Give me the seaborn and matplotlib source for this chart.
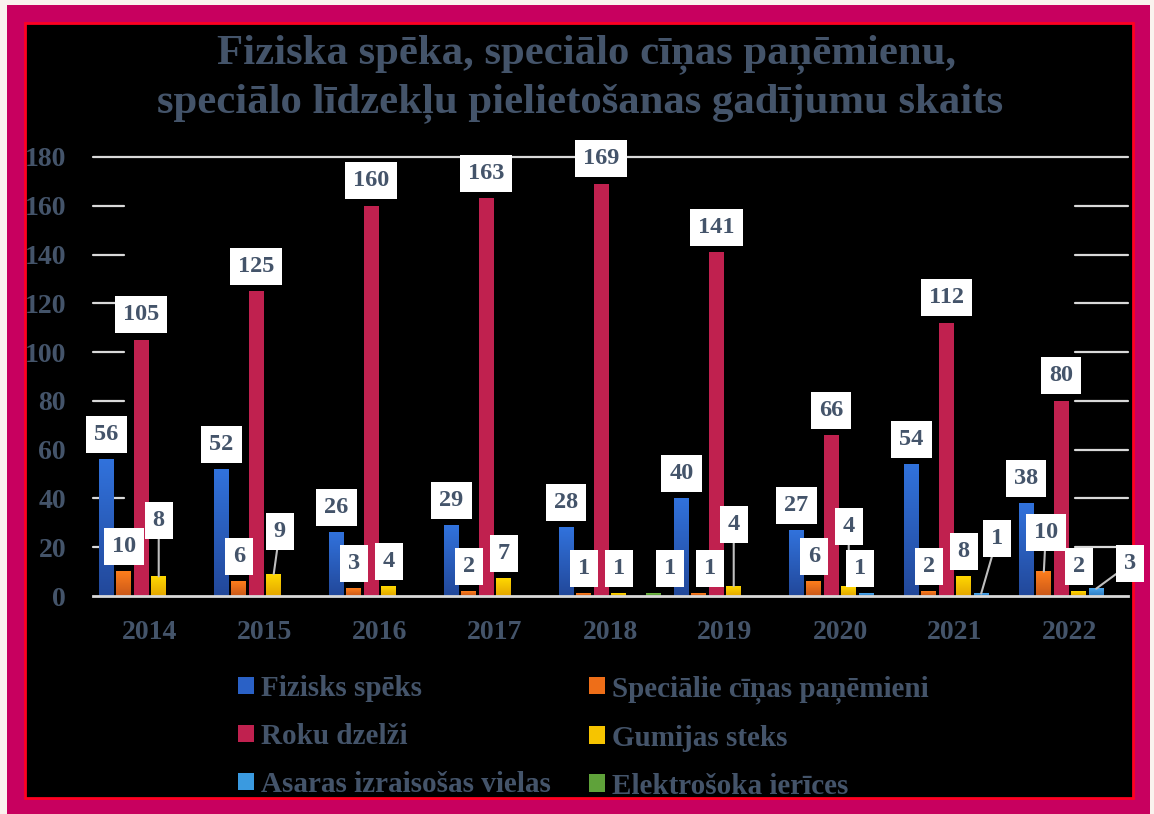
import numpy as np
import pandas as pd
import matplotlib
matplotlib.use('Agg')
import matplotlib.pyplot as plt
import seaborn as sns
from matplotlib.colors import to_rgb
from matplotlib.patches import Rectangle, Patch

# dati
years = ['2014', '2015', '2016', '2017', '2018', '2019', '2020', '2021', '2022']
fizisks_speks = [56, 52, 26, 29, 28, 40, 27, 54, 38]
specialie_panemieni = [10, 6, 3, 2, 1, 1, 6, 2, 10]
roku_dzelzi = [105, 125, 160, 163, 169, 141, 66, 112, 80]
gumijas_steks = [8, 9, 4, 7, 1, 4, 4, 8, 2]
asaras_vielas = [0, 0, 0, 0, 0, 0, 1, 1, 3]
elektrosoka_ierices = [0, 0, 0, 0, 1, 0, 0, 0, 0]

series_names = ['Fizisks spēks', 'Speciālie cīņas paņēmieni', 'Roku dzelži',
                'Gumijas steks', 'Asaras izraisošas vielas', 'Elektrošoka ierīces']
series_values = [fizisks_speks, specialie_panemieni, roku_dzelzi,
                 gumijas_steks, asaras_vielas, elektrosoka_ierices]
colors = ['#2A61C6', '#EE6E18', '#C0214F', '#F6C400', '#3A9AE0', '#5FA23A']
# krāsu pārejas (augša, apakša); None = vienkrāsains
gradients = [('#3172DC', '#22489A'), ('#FF7E1C', '#C9581A'), None,
             ('#FFD800', '#E3A600'), ('#4CA8EE', '#2E7CC2'), ('#74BE46', '#4E8A2D')]

title_lines = ['Fiziska spēka, speciālo cīņas paņēmienu,',
               'speciālo līdzekļu pielietošanas gadījumu skaits']

# label offsets in pixels (dx, dy, leader line)
label_moves = {
    (0, 3): (0, 56, True),
    (1, 3): (6, 43, True),
    (4, 5): (16, 25, False),
    (5, 1): (11, 25, False),
    (5, 3): (0, 62, True),
    (6, 3): (0, 60, True),
    (6, 4): (-6, 25, False),
    (7, 4): (16, 55, True),
    (8, 1): (2, 39, True),
    (8, 4): (34, 25, True),
}

df = pd.DataFrame([
    {'year': y, 'series': name, 'value': vals[i]}
    for name, vals in zip(series_names, series_values)
    for i, y in enumerate(years)
])

sns.set_style('dark')
plt.rcParams['font.family'] = ['Liberation Serif', 'DejaVu Serif']
plt.rcParams['font.weight'] = 'bold'

slate = '#44546A'
W, H = 1154, 814
fig = plt.figure(figsize=(W / 100, H / 100), dpi=100, facecolor='#FAF3EE')

# ramis
fig.patches.append(Rectangle((7 / W, 0), 1143 / W, 1 - 5 / H, transform=fig.transFigure,
                             facecolor='#C8005F', edgecolor='none', zorder=-3))
fig.patches.append(Rectangle((25 / W, 1 - 798 / H), 1108 / W, 775 / H, transform=fig.transFigure,
                             facecolor='black', edgecolor='#FF0022', lw=2, zorder=-2))

ax = fig.add_axes([92.5 / W, 1 - 596 / H, 1035 / W, 439 / H])
ax.set_facecolor('black')
ax.patch.set_alpha(0)

bar_width = 0.91
sns.barplot(data=df, x='year', y='value', hue='series', hue_order=series_names,
            palette=colors, width=bar_width, gap=0.14, ax=ax, legend=False,
            saturation=1, edgecolor='none', zorder=2)

# gradienti stabiņiem
xl = (-0.5, len(years) - 0.5)
for p in list(ax.patches):
    fc = p.get_facecolor()[:3]
    k = int(np.argmin([np.sum((np.array(fc) - np.array(to_rgb(c))) ** 2) for c in colors]))
    if gradients[k] is None or p.get_height() <= 0:
        continue
    top, bot = np.array(to_rgb(gradients[k][0])), np.array(to_rgb(gradients[k][1]))
    t = np.linspace(0, 1, 64)[:, None, None]
    img = top * (1 - t) + bot * t
    x0 = p.get_x()
    ax.imshow(img, extent=[x0, x0 + p.get_width(), 0, p.get_height()], origin='upper',
              aspect='auto', interpolation='bilinear', zorder=2.1)
    p.set_visible(False)

ax.set_xlim(*xl)
ax.set_ylim(0, 180)
ax.set_yticks(range(0, 181, 20))
ax.grid(False)
ax.set_xlabel('')
ax.set_ylabel('')
for s in ['left', 'right', 'top']:
    ax.spines[s].set_visible(False)
ax.spines['bottom'].set_color('#D9D9D9')
ax.spines['bottom'].set_linewidth(2)
ax.spines['bottom'].set_zorder(3)
ax.tick_params(axis='y', length=0, pad=19, labelsize=20, labelcolor=slate)
ax.tick_params(axis='x', length=0, pad=17, labelsize=20, labelcolor=slate)

# režģa līnijas (redzamas tikai malās)
grid_kw = dict(color='#D9D9D9', lw=1.6, zorder=0.5, clip_on=False)
for v in range(20, 180, 20):
    ax.axhline(v, xmin=0, xmax=31.5 / 1035, **grid_kw)
    ax.axhline(v, xmin=982.5 / 1035, xmax=1, **grid_kw)
ax.axhline(180, xmin=0, xmax=1, **grid_kw)

# datu etiķetes
n = len(series_names)
for j, vals in enumerate(series_values):
    for i, v in enumerate(vals):
        if v == 0:
            continue
        x = i + (j - (n - 1) / 2) * bar_width / n
        dx, dy, leader = label_moves.get((i, j), (0, 25, False))
        arrow = None
        if leader:
            arrow = dict(arrowstyle='-', color='#BFBFBF', lw=1.5, shrinkA=0, shrinkB=0)
        ax.annotate(str(v), xy=(x, v), xytext=(dx, dy), textcoords='offset pixels',
                    ha='center', va='center', fontsize=17.5, color=slate,
                    bbox=dict(boxstyle='square,pad=0.33', fc='white', ec='none'),
                    arrowprops=arrow, zorder=5, annotation_clip=False)

# virsraksts
fig.text(0.508, 1 - 63 / H, title_lines[0], ha='center', va='baseline',
         fontsize=30.8, color=slate)
fig.text(0.503, 1 - 112 / H, title_lines[1], ha='center', va='baseline',
         fontsize=30.8, color=slate)

# leģenda (aizpilda pa kolonnām)
order = [0, 2, 4, 1, 3, 5]
handles = [Patch(facecolor=colors[k], edgecolor='none', label=series_names[k]) for k in order]
fig.legend(handles=handles, ncol=2, loc='upper left', bbox_to_anchor=(238 / W, 1 - 675 / H),
           frameon=False, fontsize=21, labelcolor=slate, handlelength=0.55,
           handleheight=0.55, handletextpad=0.25, columnspacing=1.3,
           labelspacing=0.72, borderpad=0, borderaxespad=0)

fig.savefig('out.png', dpi=100, facecolor=fig.get_facecolor())
